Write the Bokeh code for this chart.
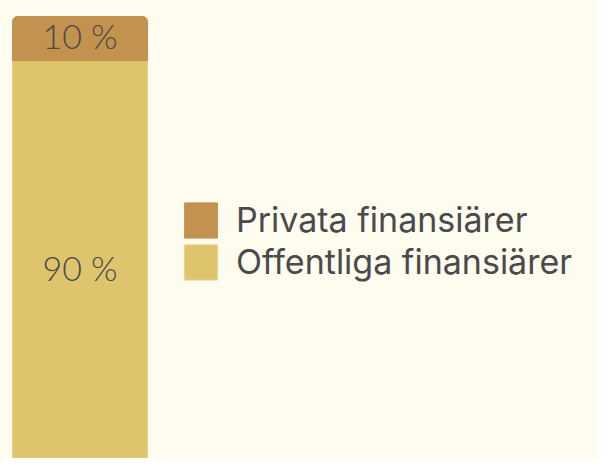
from bokeh.plotting import figure
from bokeh.models import ColumnDataSource, Range1d, Legend, LegendItem
from bokeh.core.properties import value
from bokeh.embed import file_html
from bokeh.resources import INLINE

# data
categories = ["Offentliga finansiärer", "Privata finansiärer"]
shares = [90.5, 9.5]
share_labels = ["90 %", "10 %"]
colors = ["#DFC46E", "#C4924F"]

bg = "#FEFBEF"
txt = "#4A4A4A"

bottoms = [0, shares[0]]
tops = [shares[0], shares[0] + shares[1]]
mids = [(b + t) / 2 for b, t in zip(bottoms, tops)]

W, H = 596, 458
p = figure(width=W, height=H, output_backend="svg", toolbar_location=None,
           x_range=Range1d(-0.5889, 3.8259), y_range=Range1d(4.568, 103.4545),
           min_border=0, background_fill_color=bg, border_fill_color=bg,
           outline_line_color=None)
p.axis.visible = False
p.grid.visible = False

r_pub = p.vbar(x=0, width=1, bottom=bottoms[0], top=tops[0], fill_color=colors[0],
               line_color="#E9D48A", line_width=1)
r_priv = p.vbar(x=0, width=1, bottom=bottoms[1], top=tops[1], fill_color=colors[1],
                line_color=colors[1], line_width=1, border_radius=(5, 5, 0, 0))

src = ColumnDataSource(dict(x=[0, 0], y=mids, t=share_labels))
p.text(x="x", y="y", text="t", source=src, text_align="center", text_baseline="middle",
       y_offset=-3, text_font=value("Lato Light"), text_font_size="34px", text_color=txt)

common = dict(orientation="vertical", glyph_width=41, glyph_height=44, spacing=0,
              label_standoff=15, padding=0, margin=0, border_line_color=None,
              background_fill_alpha=0, label_text_font="Inter",
              label_text_font_size="34px", label_text_color=txt, label_height=44)
leg1 = Legend(items=[LegendItem(label=categories[1], renderers=[r_priv])],
              location=(180, 216.5), **common)
leg2 = Legend(items=[LegendItem(label=categories[0], renderers=[r_pub])],
              location=(180, 174.5), **common)
p.add_layout(leg1, "center")
p.add_layout(leg2, "center")

open("out.html", "w").write(file_html(p, INLINE))
